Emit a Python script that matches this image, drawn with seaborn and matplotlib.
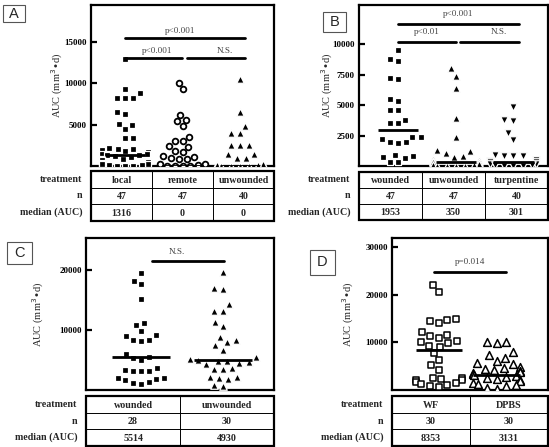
import matplotlib
matplotlib.use('Agg')
import matplotlib.pyplot as plt
import seaborn as sns
import numpy as np
from matplotlib.patches import Rectangle

sns.set_theme(style='white')
plt.rcParams['font.family'] = ['Liberation Serif', 'DejaVu Serif']

# ---------------- data ----------------
# Panel A
a_cats = ['local', 'remote', 'unwounded']
a_local = [13000, 9300, 8800, 8200, 8200, 8200, 6500, 6300, 5100, 5000, 4500, 3400, 3400,
           2200, 2100, 2000, 1900, 1800, 1700, 1500, 1400, 1300, 1300, 1200, 1100, 900, 800,
           700, 600, 500, 400, 300, 200, 100, 100, 0, 0, 0]
a_remote = [10100, 9300, 6200, 5600, 5400, 4800, 3500, 3000, 3000, 2400, 2300, 1800, 1700,
            1200, 1100, 1000, 900, 800, 300, 200, 100, 0, 0, 0, 0]
a_unwounded = [10500, 6600, 4900, 4000, 4000, 2600, 2500, 2500, 1400, 1400, 1000, 1000,
               300, 200, 200, 100, 100, 0, 0, 0, 0]
a_n = [47, 47, 40]
a_median = [1316, 0, 0]
a_yticks = [5000, 10000, 15000]

# Panel B
b_cats = ['wounded', 'unwounded', 'turpentine']
b_wounded = [9500, 8800, 8600, 7200, 7100, 5500, 5300, 4600, 4600, 3800, 3500, 3500,
             2400, 2400, 2200, 2000, 1950, 1900, 900, 800, 700, 650, 300, 300]
b_unwounded = [8000, 7400, 6400, 3900, 2400, 1300, 1200, 1100, 800, 700, 600, 500, 400,
               350, 300, 200, 100, 100, 0, 0, 0, 0]
b_turpentine = [4800, 3800, 3700, 2700, 2100, 900, 850, 800, 800, 500, 400, 300, 300,
                200, 200, 100, 100, 0, 0, 0]
b_n = [47, 47, 40]
b_median = [1953, 350, 301]
b_line = [2950, 350, 301]
b_yticks = [2500, 5000, 7500, 10000]

# Panel C
c_cats = ['wounded', 'unwounded']
c_wounded = [19400, 18200, 17600, 15100, 11200, 10900, 9900, 9100, 9000, 8400, 8300, 8200,
             6000, 5500, 5400, 5000, 3600, 3300, 3200, 3200, 3100, 2000, 2000, 1900, 1600,
             1400, 1100, 1000]
c_unwounded = [19700, 17000, 16800, 14300, 13200, 13200, 11400, 10700, 8800, 8300, 8000,
               7500, 6700, 5500, 5100, 5000, 4900, 4800, 4700, 4500, 4300, 3600, 3500, 3500,
               2200, 2100, 2000, 1900, 800, 700]
c_n = [28, 30]
c_median = [5514, 4930]
c_yticks = [10000, 20000]

# Panel D
d_cats = ['WF', 'DPBS']
d_wf = [22000, 20600, 15000, 14700, 14400, 14000, 12200, 11600, 11400, 11000, 10200, 10000,
        9800, 9200, 9000, 7700, 6200, 5300, 4300, 2600, 2500, 2300, 2200, 2000, 1700, 1500,
        1300, 1000, 800, 600]
d_dpbs = [10000, 9800, 10000, 8000, 7300, 6800, 6100, 5600, 5500, 4800, 4700, 4500, 4200,
          4000, 3700, 3500, 3300, 3100, 3000, 2800, 2500, 2300, 2000, 1800, 1500, 1300,
          1000, 800, 500, 200]
d_n = [30, 30]
d_median = [8353, 3131]
d_yticks = [10000, 20000, 30000]

row_labels = ['treatment', 'n', 'median (AUC)']

# ---------------- layout helpers ----------------
W, H = 549, 447
fig = plt.figure(figsize=(W / 100, H / 100), dpi=100)


def rect(x0, y0, x1, y1):
    return [x0 / W, 1 - y1 / H, (x1 - x0) / W, (y1 - y0) / H]


# filled markers get a thin white rim so the swarm leaves small gaps between them
SQ = dict(marker='s', color='black', edgecolor='white', size=4.7, linewidth=0.9)
CIRC = dict(marker='o', color='white', edgecolor='black', size=4.1, linewidth=1.3)
TRI = dict(marker='^', color='black', edgecolor='white', size=5.4, linewidth=0.9)
TRID = dict(marker='v', color='black', edgecolor='white', size=5.4, linewidth=0.9)
OSQ = dict(marker='s', color='white', edgecolor='black', size=5.0, linewidth=1.1)
OTRI = dict(marker='^', color='white', edgecolor='black', size=5.6, linewidth=1.1)

PCOL = '#444444'


def panel(box, cats, groups, styles, lines, ylim, xlim, yticks, ylab_x, half=0.35):
    ax = fig.add_axes(rect(*box))
    for cat, vals, st in zip(cats, groups, styles):
        sns.swarmplot(x=[cat] * len(vals), y=vals, order=cats, ax=ax, warn_thresh=1.0,
                      zorder=3, **st)
    pos = np.arange(len(cats))
    ax.hlines(lines, pos - half, pos + half, color='black', lw=2, zorder=5)
    ax.set_xlim(*xlim)
    ax.set_ylim(*ylim)
    ax.set_xticks([])
    ax.set_xlabel('')
    ax.set_ylabel('')
    ax.set_yticks(yticks)
    ax.set_yticklabels([str(v) for v in yticks], fontsize=6.5, fontweight='bold')
    ax.tick_params(axis='y', direction='in', length=4, width=1.6, pad=3, left=True,
                   colors='black')
    for s in ax.spines.values():
        s.set_visible(True)
        s.set_linewidth(1.6)
        s.set_color('black')
    ax.text(ylab_x, 0.5, 'AUC (mm$^3$\u2022d)', rotation=90, ha='center', va='center',
            transform=ax.transAxes, fontsize=7.5)
    return ax


def table(box, cats, ns, meds):
    ax = fig.add_axes(rect(*box))
    nc = len(cats)
    ax.set_xlim(0, nc)
    ax.set_ylim(0, 3)
    ax.axis('off')
    ax.add_patch(Rectangle((0, 0), nc, 3, fill=False, lw=1.6, ec='black', clip_on=False))
    for i in range(1, nc):
        ax.plot([i, i], [0, 3], color='black', lw=0.7)
    for j in (1, 2):
        ax.plot([0, nc], [j, j], color='black', lw=0.7)
    rows = [cats, ns, meds]
    for r, row in enumerate(rows):
        for i, v in enumerate(row):
            ax.text(i + 0.5, 2.45 - r, str(v), ha='center', va='center', fontsize=7.2,
                    fontweight='bold')
    for r, lab in enumerate(row_labels):
        ax.annotate(lab, xy=(0, 2.5 - r), xytext=(-6, 0), textcoords='offset points',
                    ha='right', va='center', fontsize=7.2, fontweight='bold',
                    annotation_clip=False)
    return ax


def letter(x0, y0, x1, y1, s):
    fig.patches.append(Rectangle((x0 / W, 1 - y1 / H), (x1 - x0) / W, (y1 - y0) / H,
                                 transform=fig.transFigure, fill=False, ec='#555555',
                                 lw=0.8))
    fig.text((x0 + x1) / 2 / W, 1 - (y0 + y1) / 2 / H, s, ha='center', va='center',
             fontsize=10.5, family='Liberation Sans')


def sig(ax, x0, x1, y, text=None, tx=None, ty=None):
    ax.plot([x0, x1], [y, y], color='black', lw=2, clip_on=False, zorder=4)
    if text:
        ax.text(tx, ty, text, ha='center', va='center', fontsize=6.6, color=PCOL)


# ---------------- Panel A ----------------
axA = panel((91, 5, 274, 166), a_cats, [a_local, a_remote, a_unwounded], [SQ, CIRC, TRI],
            a_median, (0, 19500), (-0.6, 2.6), a_yticks, -0.186)
sig(axA, 0.0, 2.1, 15500, 'p<0.001', 0.96, 16300)
sig(axA, 0.0, 0.99, 13100, 'p<0.001', 0.55, 13950)
sig(axA, 1.08, 2.1, 13100, 'N.S.', 1.74, 13950)
table((91, 171, 274, 221), a_cats, a_n, a_median)
letter(3, 5, 25, 22, 'A')

# ---------------- Panel B ----------------
axB = panel((359, 5, 548, 166), b_cats, [b_wounded, b_unwounded, b_turpentine],
            [SQ, TRI, TRID], b_line, (0, 13200), (-0.676, 2.6), b_yticks, -0.17)
sig(axB, 0.0, 2.1, 11670, 'p<0.001', 1.04, 12450)
sig(axB, 0.0, 1.0, 10170, 'p<0.01', 0.5, 10950)
sig(axB, 1.08, 2.1, 10170, 'N.S.', 1.75, 10950)
table((359, 172, 548, 220), b_cats, b_n, b_median)
letter(323, 12, 346, 32, 'B')

# ---------------- Panel C ----------------
axC = panel((86, 238, 274, 390), c_cats, [c_wounded, c_unwounded], [SQ, TRI],
            c_median, (0, 25300), (-0.67, 1.62), c_yticks, -0.255)
sig(axC, 0.13, 1.01, 21400, 'N.S.', 0.44, 22900)
table((86, 396, 274, 446), c_cats, c_n, c_median)
letter(7, 242, 32, 264, 'C')

# ---------------- Panel D ----------------
axD = panel((392, 238, 548, 390), d_cats, [d_wf, d_dpbs], [OSQ, OTRI],
            d_median, (0, 31900), (-0.81, 1.89), d_yticks, -0.282, half=0.4)
sig(axD, -0.08, 1.16, 24800, 'p=0.014', 0.54, 26800)
table((392, 396, 548, 446), d_cats, d_n, d_median)
letter(310, 250, 335, 275, 'D')

fig.savefig('out.png', dpi=100, facecolor='white')
